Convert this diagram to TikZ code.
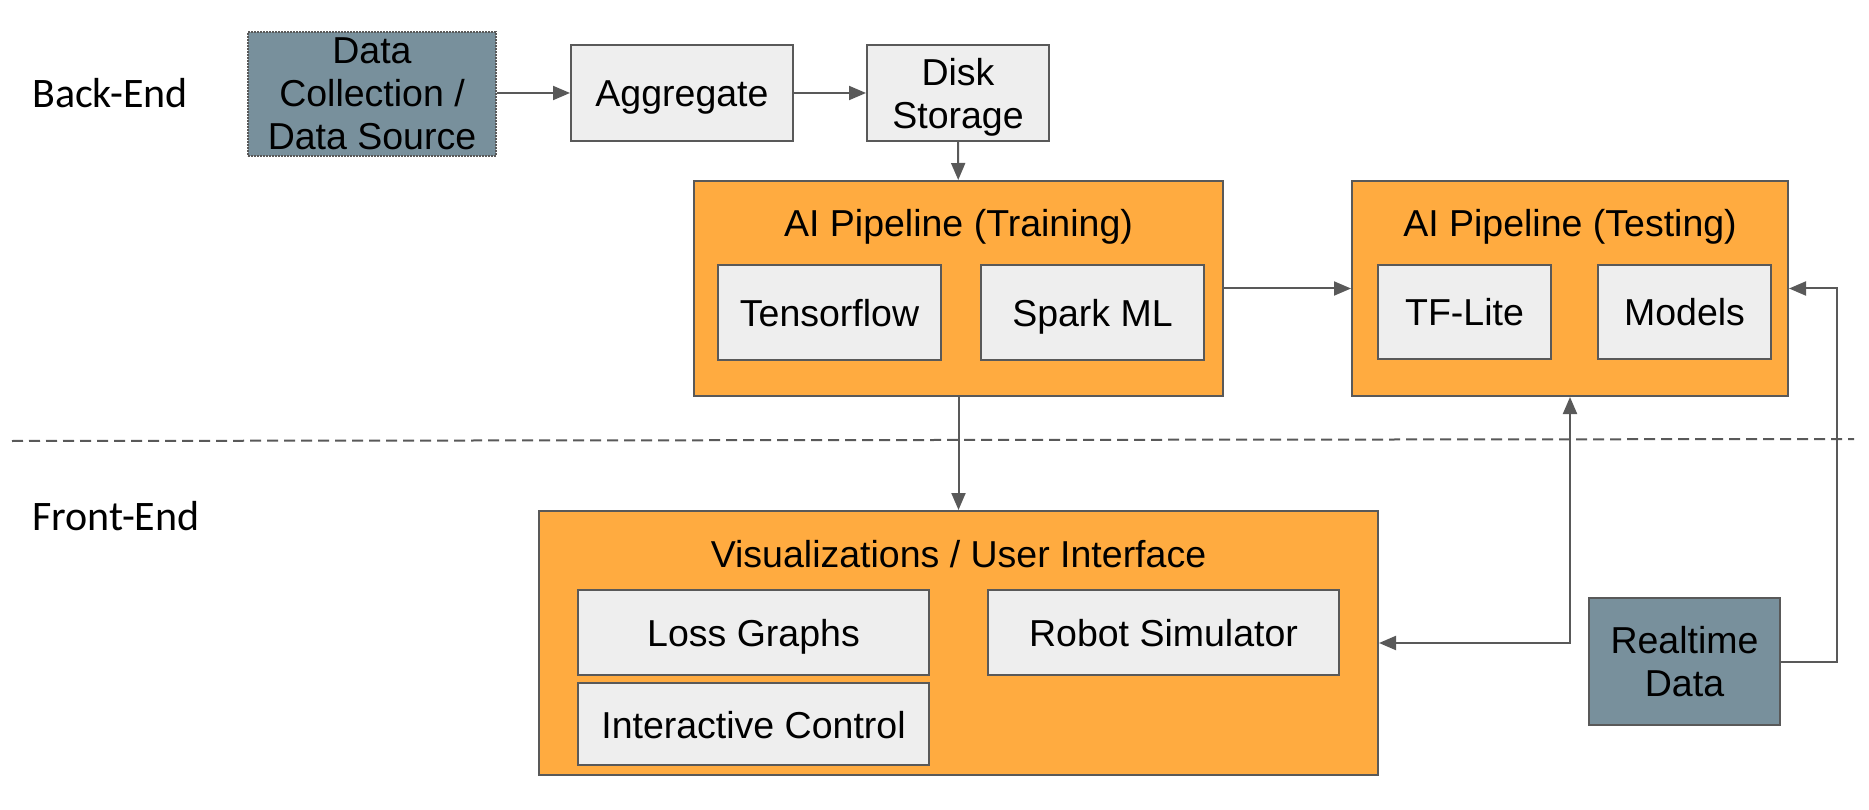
\documentclass[tikz,border=0pt]{standalone}
\usepackage{fontspec}
\setmainfont{Liberation Sans}
\newfontfamily\labelfont{Carlito}
\usetikzlibrary{arrows.meta}
\definecolor{orangebox}{HTML}{FFAB40}
\definecolor{lightbox}{HTML}{EEEEEE}
\definecolor{slatebox}{HTML}{78909C}
\definecolor{edgegray}{HTML}{595959}
\tikzset{
  base/.style={draw=edgegray, line width=2pt, inner sep=0pt, align=center,
    font=\fontsize{37.5}{43}\selectfont, text=black},
  outerbox/.style={base, fill=orangebox},
  innerbox/.style={base, fill=lightbox},
  slate/.style={base, fill=slatebox},
  oneline/.style={text height=28pt, text depth=0pt},
  sz/.style 2 args={minimum width=#1pt, minimum height=#2pt},
  conn/.style={draw=edgegray, line width=2pt, -{Triangle[length=17pt,width=14pt]}},
  biconn/.style={draw=edgegray, line width=2pt, {Triangle[length=17pt,width=14pt]}-{Triangle[length=17pt,width=14pt]}},
  sidelabel/.style={anchor=west, inner sep=0pt, font=\labelfont\fontsize{42}{50}\selectfont},
  title/.style={inner sep=0pt, oneline, font=\fontsize{37.5}{43}\selectfont}
}
\begin{document}
\begin{tikzpicture}[x=1pt,y=-1pt]
\useasboundingbox (0,0) rectangle (1869,810);
% separator
\draw[edgegray, line width=2pt, dash pattern=on 11pt off 6pt] (12,441) -- (1854,439);
% side labels
\node[sidelabel] (be) at (32,93) {Back-End};
\node[sidelabel] (fe) at (32,516) {Front-End};
% back-end top row
\node[slate, sz={248}{124}, densely dotted] (dc) at (372,94) {Data\\Collection /\\Data Source};
\node[innerbox, oneline, sz={222}{96}] (agg) at (682,93) {Aggregate};
\node[innerbox, sz={182}{96}] (disk) at (958,93) {Disk\\\smash{Storage}};
% training
\node[outerbox, sz={529}{215}] (train) at (958.5,288.5) {};
\node[title] (traint) at (958.5,223) {AI Pipeline (Training)};
\node[innerbox, oneline, sz={223}{95}] (tf) at (829.5,312.5) {Tensorflow};
\node[innerbox, oneline, sz={223}{95}] (spark) at (1092.5,312.5) {Spark ML};
% testing
\node[outerbox, sz={436}{215}] (test) at (1570,288.5) {};
\node[title] (testt) at (1570,223) {AI Pipeline (Testing)};
\node[innerbox, oneline, sz={173}{94}] (tflite) at (1464.5,312) {TF-Lite};
\node[innerbox, oneline, sz={173}{94}] (models) at (1684.5,312) {Models};
% front-end
\node[outerbox, sz={839}{264}] (vis) at (958.5,643) {};
\node[title] (vist) at (958.5,553) {Visualizations / User Interface};
\node[innerbox, oneline, sz={351}{85}] (loss) at (753.5,632.5) {Loss Graphs};
\node[innerbox, oneline, sz={351}{85}] (robot) at (1163.5,632.5) {Robot Simulator};
\node[innerbox, oneline, sz={351}{82}] (inter) at (753.5,724) {Interactive Control};
\node[slate, sz={191}{127}] (rt) at (1684.5,661.5) {Realtime\\Data};
% connectors
\coordinate (bend1) at (test.south |- vis.east);
\coordinate (rtout) at (1837,661.5);
\coordinate (rtup) at (1837,288.5);
\draw[conn] (dc.east |- agg.west) -- (agg.west);
\draw[conn] (agg) -- (disk);
\draw[conn] (disk) -- (train);
\draw[conn] (train) -- (test);
\draw[conn] (train) -- (vis);
\draw[biconn] (test.south) -- (bend1) -- (vis.east);
\draw[conn] (rt.east) -- (rtout) -- (rtup) -- (test.east);
\end{tikzpicture}
\end{document}
